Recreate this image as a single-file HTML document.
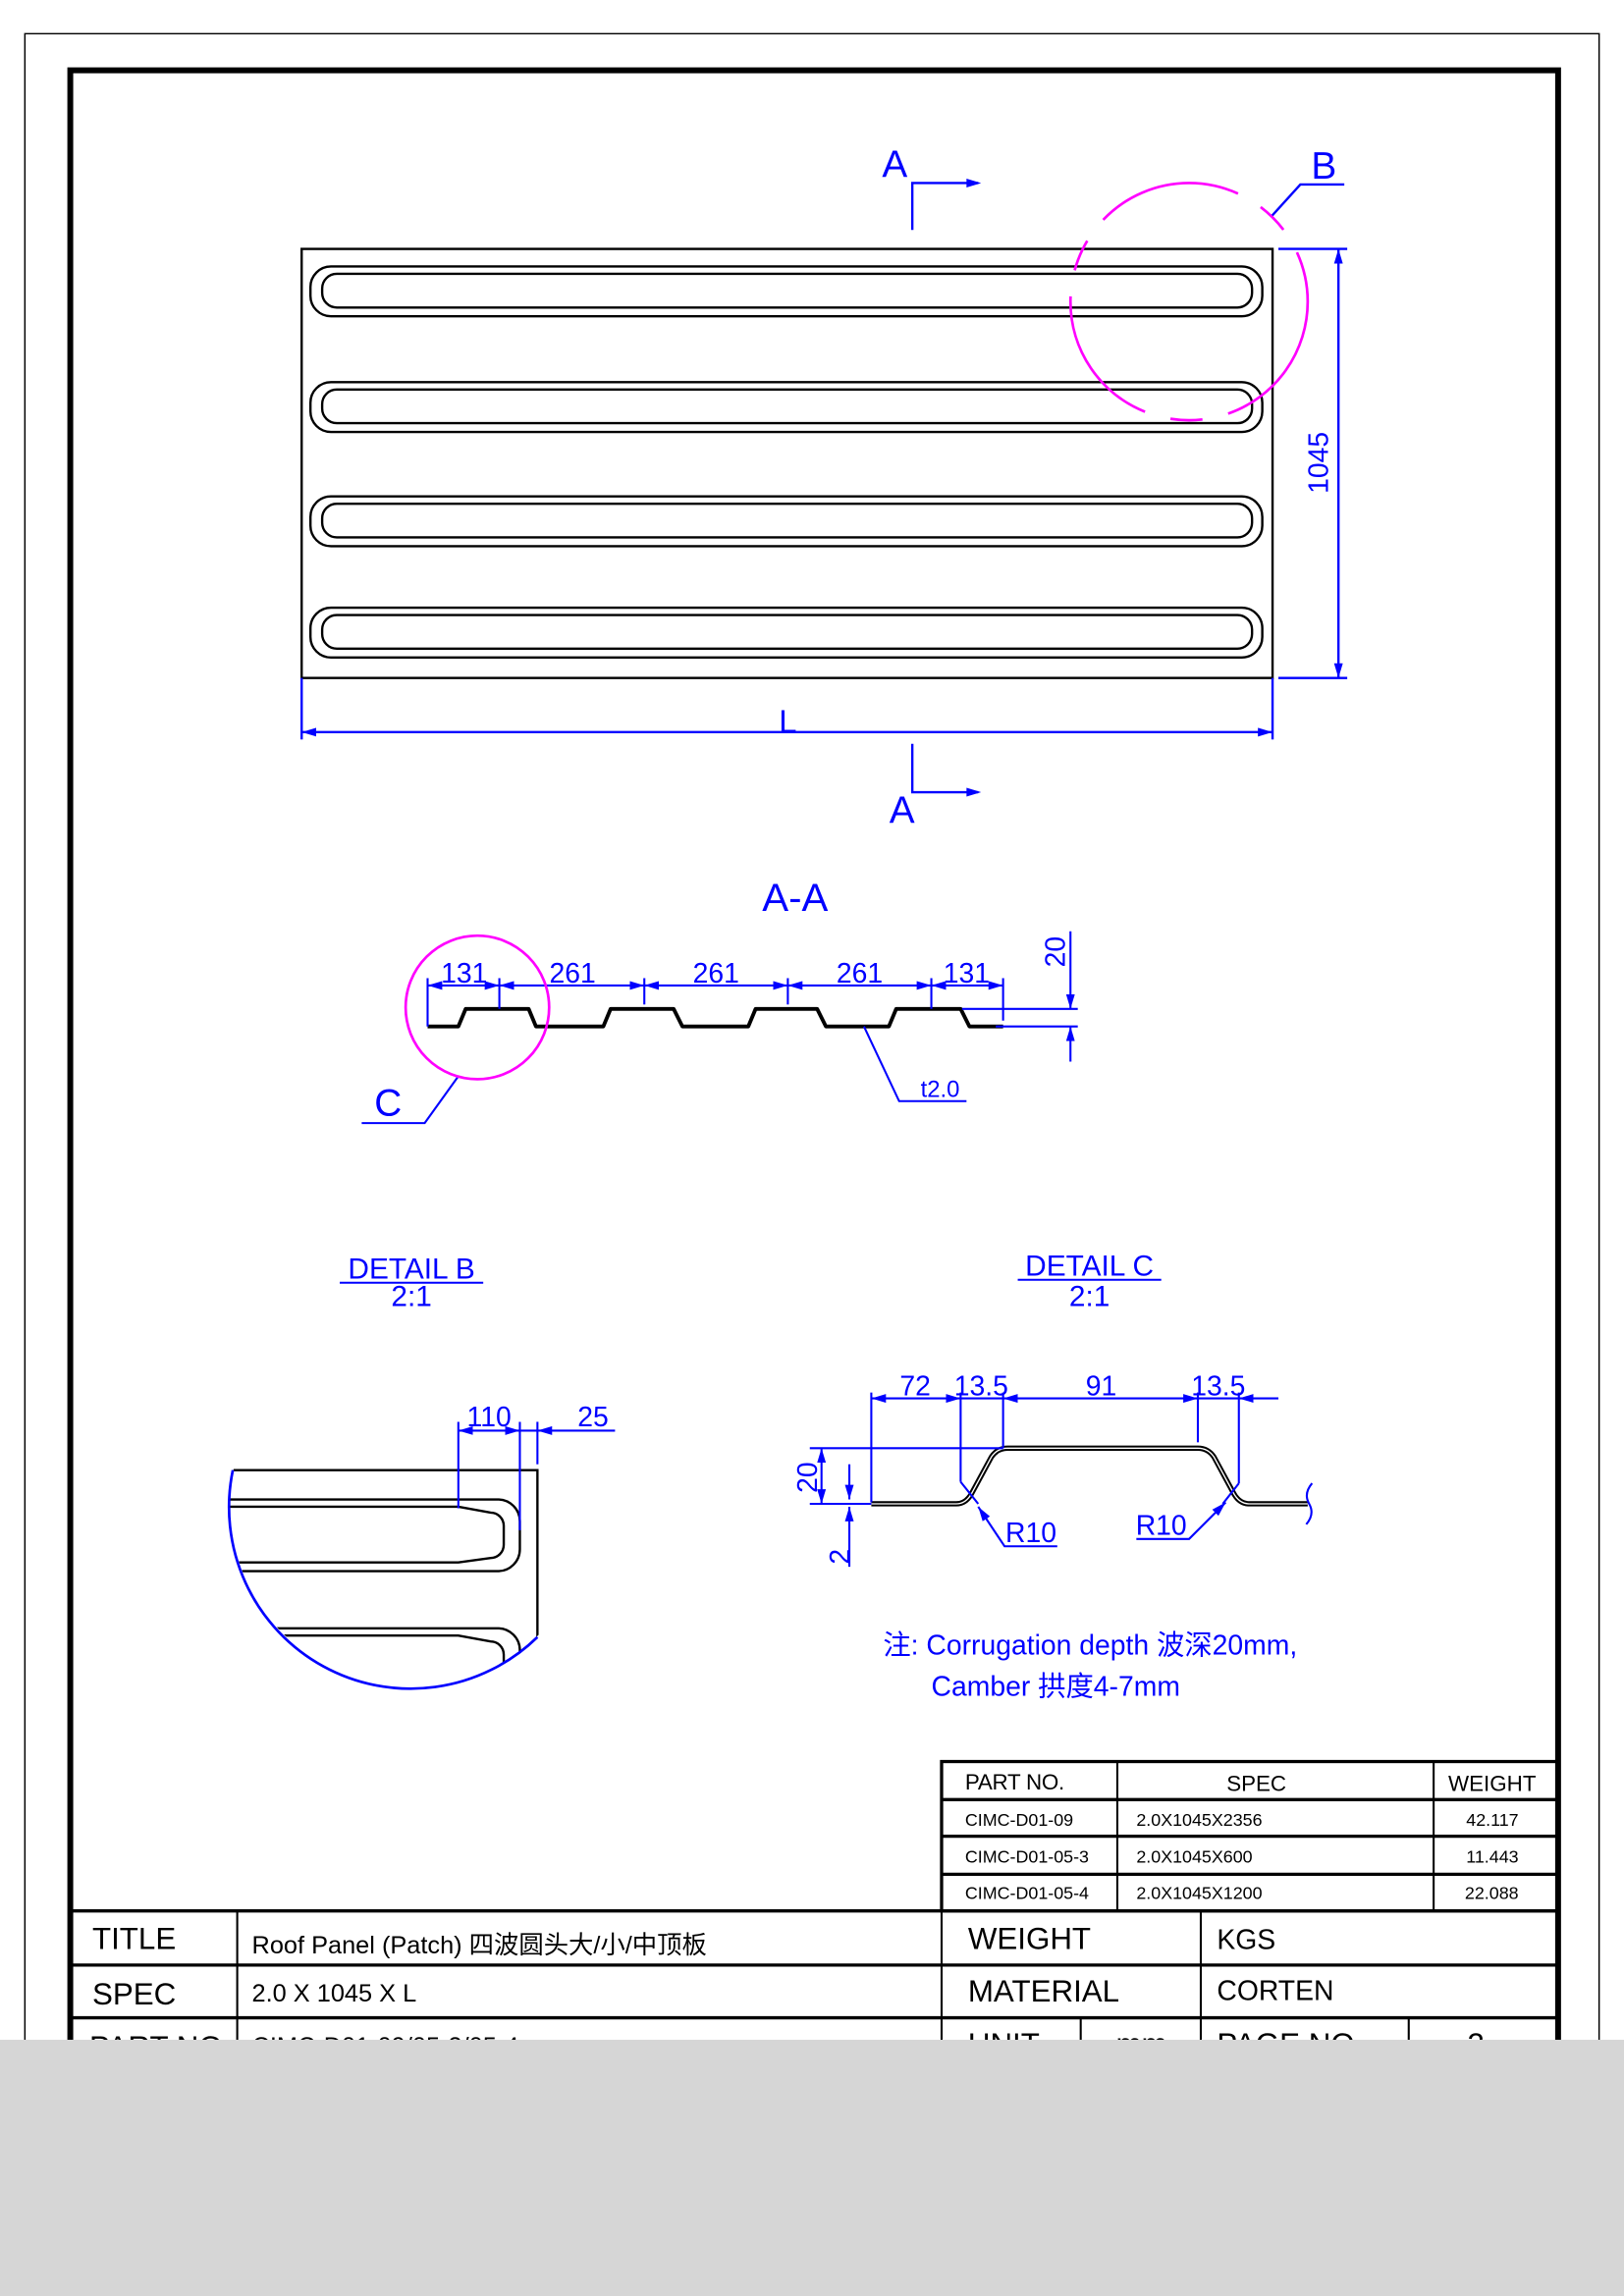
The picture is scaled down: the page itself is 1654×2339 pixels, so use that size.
<!DOCTYPE html>
<html><head><meta charset="utf-8"><style>
html,body{margin:0;padding:0;background:#fff;}
svg{display:block;}
text{font-family:"Liberation Sans","Noto Sans CJK SC",sans-serif;}
.b{fill:#0000ff;}
</style></head><body>
<svg width="1654" height="2339" viewBox="0 0 1109 1568" preserveAspectRatio="none" xmlns="http://www.w3.org/2000/svg">
<defs>
<marker id="ar" viewBox="0 0 10 6" refX="10" refY="3" markerWidth="10" markerHeight="6" orient="auto-start-reverse" markerUnits="userSpaceOnUse"><path d="M0,0 L10,3 L0,6 z" fill="#0000ff"/></marker>
<clipPath id="cb"><circle cx="281" cy="1028" r="124"/></clipPath>
</defs>
<rect width="1109" height="1568" fill="#fff"/>
<!-- borders -->
<path d="M17,1568 V23 H1092 V1568" fill="none" stroke="#000" stroke-width="1"/>
<path d="M48,1568 V48 H1064 V1568" fill="none" stroke="#000" stroke-width="4"/>

<!-- top view -->
<g fill="none" stroke="#000" stroke-width="1.6">
<rect x="206" y="170" width="663" height="293"/>
<rect x="212" y="182" width="650" height="34" rx="14"/>
<rect x="220" y="187" width="635" height="23" rx="10"/>
<rect x="212" y="261" width="650" height="34" rx="14"/>
<rect x="220" y="266" width="635" height="23" rx="10"/>
<rect x="212" y="339" width="650" height="34" rx="14"/>
<rect x="220" y="344" width="635" height="23" rx="10"/>
<rect x="212" y="415" width="650" height="34" rx="14"/>
<rect x="220" y="420" width="635" height="23" rx="10"/>
</g>
<g stroke="#0000ff" stroke-width="1.6" fill="none">
<line x1="206" y1="463" x2="206" y2="505"/><line x1="869" y1="463" x2="869" y2="505"/>
<line x1="206" y1="500" x2="869" y2="500" marker-start="url(#ar)" marker-end="url(#ar)"/>
<line x1="873" y1="170" x2="920" y2="170"/><line x1="873" y1="463" x2="920" y2="463"/>
<line x1="914" y1="170" x2="914" y2="463" marker-start="url(#ar)" marker-end="url(#ar)"/>
<polyline points="623,157 623,125 668,125" /><polyline points="623,508 623,541 668,541"/>
<polyline points="868,148 888,126 918,126"/>
</g>
<path d="M660,122 L670,125 L660,128z M660,538 L670,541 L660,544z" fill="#0000ff"/>
<text x="538" y="500" class="b" font-size="22" text-anchor="middle">L</text>
<text x="913" y="316" class="b" font-size="19" text-anchor="middle" transform="rotate(-90 913 316)" dy="-6">1045</text>
<text x="611" y="121" class="b" font-size="26" text-anchor="middle">A</text>
<text x="616" y="562" class="b" font-size="26" text-anchor="middle">A</text>
<text x="904" y="122" class="b" font-size="26" text-anchor="middle">B</text>
<circle cx="812" cy="206" r="81" fill="none" stroke="#ff00ff" stroke-width="1.8" stroke-dasharray="100,18,22,18"/>

<!-- A-A -->
<text x="543" y="622" class="b" font-size="27" text-anchor="middle">A-A</text>
<path d="M292,701 H313 L318,689 H361 L366,701 H412 L417,689 H460 L466,701 H511 L516,689 H558 L564,701 H607 L612,689 H656 L662,701 H685" fill="none" stroke="#000" stroke-width="2.6" stroke-linejoin="round"/>
<g stroke="#0000ff" stroke-width="1.4" fill="none">
<line x1="292" y1="668" x2="292" y2="701"/><line x1="341" y1="668" x2="341" y2="689"/>
<line x1="440" y1="668" x2="440" y2="686"/><line x1="538" y1="668" x2="538" y2="686"/>
<line x1="636" y1="668" x2="636" y2="689"/><line x1="685" y1="668" x2="685" y2="697"/>
<line x1="292" y1="673" x2="341" y2="673" marker-start="url(#ar)" marker-end="url(#ar)"/>
<line x1="341" y1="673" x2="440" y2="673" marker-start="url(#ar)" marker-end="url(#ar)"/>
<line x1="440" y1="673" x2="538" y2="673" marker-start="url(#ar)" marker-end="url(#ar)"/>
<line x1="538" y1="673" x2="636" y2="673" marker-start="url(#ar)" marker-end="url(#ar)"/>
<line x1="636" y1="673" x2="685" y2="673" marker-start="url(#ar)" marker-end="url(#ar)"/>
<line x1="657" y1="689" x2="736" y2="689"/><line x1="680" y1="701" x2="736" y2="701"/>
<line x1="731" y1="636" x2="731" y2="689" marker-end="url(#ar)"/>
<line x1="731" y1="725" x2="731" y2="701" marker-end="url(#ar)"/>
<polyline points="313,735 290,767 247,767"/>
<polyline points="590,701 614,752 660,752"/>
</g>
<g class="b" font-size="19" text-anchor="middle">
<text x="317" y="671">131</text><text x="391" y="671">261</text><text x="489" y="671">261</text>
<text x="587" y="671">261</text><text x="660" y="671">131</text>
<text x="727" y="650" transform="rotate(-90 727 650)" dy="0">20</text>
<text x="642" y="749" font-size="16">t2.0</text>
</g>
<text x="265" y="762" class="b" font-size="26" text-anchor="middle">C</text>
<circle cx="326" cy="688" r="49" fill="none" stroke="#ff00ff" stroke-width="1.8"/>

<!-- detail titles -->
<g class="b" font-size="20" text-anchor="middle">
<text x="281" y="873">DETAIL  B</text><text x="281" y="892">2:1</text>
<text x="744" y="871">DETAIL  C</text><text x="744" y="892">2:1</text>
</g>
<line x1="232" y1="876" x2="330" y2="876" stroke="#0000ff" stroke-width="1.4"/>
<line x1="695" y1="874" x2="793" y2="874" stroke="#0000ff" stroke-width="1.4"/>

<!-- detail B -->
<g fill="none" stroke="#000" stroke-width="1.6" clip-path="url(#cb)">
<path d="M150,1004 H367 V1118"/>
<path d="M150,1024 H340 A15,15 0 0 1 355,1039 V1058 A15,15 0 0 1 340,1073 H150"/>
<path d="M150,1029 H313 L335,1033 A9,9 0 0 1 344,1042 V1055 A9,9 0 0 1 335,1064 L313,1067 H150"/>
<path d="M150,1112 H340 A15,15 0 0 1 355,1127 V1160"/>
<path d="M150,1117 H313 L335,1121 A9,9 0 0 1 344,1130 V1160"/>
</g>
<path d="M159,1004 A124,124 0 0 0 367,1118" fill="none" stroke="#0000ff" stroke-width="1.8"/>
<g stroke="#0000ff" stroke-width="1.4" fill="none">
<line x1="313" y1="971" x2="313" y2="1030"/><line x1="355" y1="971" x2="355" y2="1045"/><line x1="367" y1="971" x2="367" y2="1000"/>
<line x1="313" y1="977" x2="355" y2="977" marker-start="url(#ar)" marker-end="url(#ar)"/>
<line x1="355" y1="977" x2="367" y2="977"/>
<line x1="420" y1="977" x2="367" y2="977" marker-end="url(#ar)"/>
</g>
<text x="334" y="974" class="b" font-size="19" text-anchor="middle">110</text>
<text x="405" y="974" class="b" font-size="19" text-anchor="middle">25</text>

<!-- detail C -->
<path d="M595,1027 H653 Q660,1027 664,1019 L677,995 Q681,989 688,989 H818 Q825,989 829,995 L842,1019 Q846,1027 853,1027 H893" fill="none" stroke="#000" stroke-width="3.6"/>
<path d="M595,1027 H653 Q660,1027 664,1019 L677,995 Q681,989 688,989 H818 Q825,989 829,995 L842,1019 Q846,1027 853,1027 H893" fill="none" stroke="#fff" stroke-width="0.9"/>
<path d="M896,1013 Q890,1020 894,1027 Q898,1034 892,1041" fill="none" stroke="#0000ff" stroke-width="1.4"/>
<g stroke="#0000ff" stroke-width="1.4" fill="none">
<line x1="595" y1="951" x2="595" y2="1026"/><line x1="656" y1="951" x2="656" y2="1012"/>
<line x1="685" y1="951" x2="685" y2="989"/><line x1="818" y1="951" x2="818" y2="985"/>
<line x1="846" y1="951" x2="846" y2="1013"/>
<line x1="595" y1="955" x2="656" y2="955" marker-start="url(#ar)" marker-end="url(#ar)"/>
<line x1="656" y1="955" x2="685" y2="955"/>
<line x1="685" y1="955" x2="818" y2="955" marker-start="url(#ar)" marker-end="url(#ar)"/>
<line x1="818" y1="955" x2="846" y2="955"/>
<line x1="873" y1="955" x2="846" y2="955" marker-end="url(#ar)"/>
<line x1="553" y1="989" x2="685" y2="989"/><line x1="553" y1="1027" x2="595" y2="1027"/>
<line x1="561" y1="989" x2="561" y2="1027" marker-start="url(#ar)" marker-end="url(#ar)"/>
<line x1="580" y1="1000" x2="580" y2="1024" marker-end="url(#ar)"/>
<line x1="580" y1="1070" x2="580" y2="1029" marker-end="url(#ar)"/>
<line x1="656" y1="1012" x2="668" y2="1027"/>
<polyline points="722,1056 686,1056 668,1029" marker-end="url(#ar)"/>
<line x1="846" y1="1013" x2="835" y2="1027"/>
<polyline points="776,1051 812,1051 837,1026" marker-end="url(#ar)"/>
</g>
<g class="b" font-size="19" text-anchor="middle">
<text x="625" y="953">72</text><text x="670" y="953">13.5</text><text x="752" y="953">91</text><text x="832" y="953">13.5</text>
<text x="560" y="1009" transform="rotate(-90 560 1009)" dy="-2">20</text>
<text x="582" y="1063" transform="rotate(-90 582 1063)" dy="-2">2</text>
<text x="704" y="1053">R10</text><text x="793" y="1048">R10</text>
</g>
<text x="603" y="1130" class="b" font-size="19">注: Corrugation depth 波深20mm,</text>
<text x="636" y="1158" class="b" font-size="19">Camber 拱度4-7mm</text>

<!-- parts table -->
<g stroke="#000" fill="none">
<rect x="643" y="1203" width="421" height="102" stroke-width="2.2"/>
<line x1="643" y1="1229" x2="1064" y2="1229" stroke-width="2.2"/>
<line x1="643" y1="1254" x2="1064" y2="1254" stroke-width="2.2"/>
<line x1="643" y1="1280" x2="1064" y2="1280" stroke-width="2.2"/>
<line x1="763" y1="1203" x2="763" y2="1305" stroke-width="1.4"/>
<line x1="979" y1="1203" x2="979" y2="1305" stroke-width="1.4"/>
</g>
<g font-size="15" fill="#000">
<text x="659" y="1222" textLength="68">PART NO.</text>
<text x="858" y="1223" text-anchor="middle">SPEC</text>
<text x="989" y="1223" textLength="60">WEIGHT</text>
<text x="659" y="1247" font-size="12">CIMC-D01-09</text>
<text x="659" y="1272" font-size="12">CIMC-D01-05-3</text>
<text x="659" y="1297" font-size="12">CIMC-D01-05-4</text>
<text x="776" y="1247" font-size="12">2.0X1045X2356</text>
<text x="776" y="1272" font-size="12">2.0X1045X600</text>
<text x="776" y="1297" font-size="12">2.0X1045X1200</text>
<text x="1037" y="1247" font-size="12" text-anchor="end">42.117</text>
<text x="1037" y="1272" font-size="12" text-anchor="end">11.443</text>
<text x="1037" y="1297" font-size="12" text-anchor="end">22.088</text>
</g>

<!-- title block -->
<g stroke="#000" fill="none" stroke-width="2.2">
<line x1="48" y1="1305" x2="1064" y2="1305"/>
<line x1="48" y1="1342" x2="1064" y2="1342"/>
<line x1="48" y1="1378" x2="1064" y2="1378"/>
<line x1="162" y1="1305" x2="162" y2="1400" stroke-width="1.4"/>
<line x1="643" y1="1305" x2="643" y2="1400" stroke-width="1.4"/>
<line x1="820" y1="1305" x2="820" y2="1400" stroke-width="1.4"/>
<line x1="738" y1="1378" x2="738" y2="1400" stroke-width="1.4"/>
<line x1="962" y1="1378" x2="962" y2="1400" stroke-width="1.4"/>
</g>
<g font-size="21" fill="#000">
<text x="63" y="1331">TITLE</text>
<text x="63" y="1369">SPEC</text>
<text x="61" y="1405">PART NO.</text>
<text x="172" y="1334" font-size="17">Roof Panel (Patch) 四波圆头大/小/中顶板</text>
<text x="172" y="1367" font-size="17">2.0 X 1045 X L</text>
<text x="172" y="1403" font-size="17">CIMC-D01-09/05-3/05-4</text>
<text x="661" y="1331">WEIGHT</text>
<text x="661" y="1367">MATERIAL</text>
<text x="661" y="1403">UNIT</text>
<text x="762" y="1403">mm</text>
<text x="831" y="1331" font-size="19">KGS</text>
<text x="831" y="1366" font-size="19">CORTEN</text>
<text x="831" y="1403">PAGE NO.</text>
<text x="1002" y="1403">2</text>
</g>
<!-- grey bottom -->
<rect x="0" y="1393" width="1109" height="175" fill="#d6d6d6"/>
<rect x="0" y="1390" width="290" height="16" fill="#fff" opacity="0"/>
</svg>
</body></html>
